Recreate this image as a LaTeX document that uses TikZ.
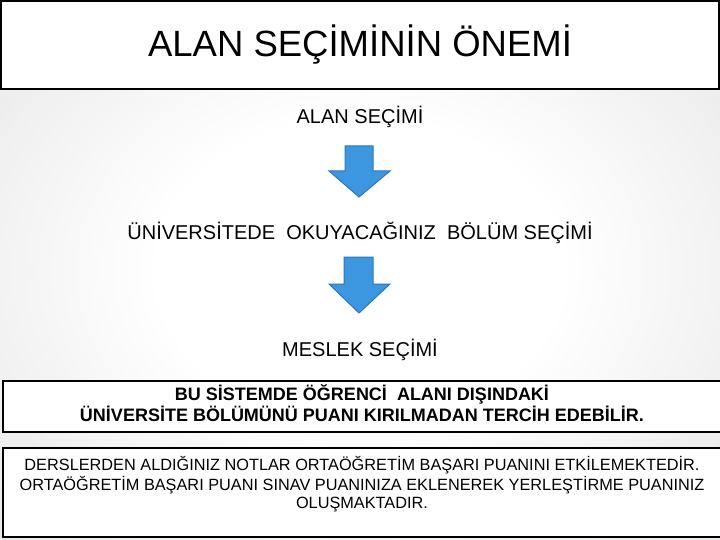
\documentclass[tikz,border=0pt]{standalone}
\usepackage{fontspec}
\setmainfont{Liberation Sans}
\pgfdeclareradialshading{bgshade}{\pgfpoint{0bp}{0bp}}{color(0bp)=(white); color(14bp)=(white); color(50bp)=(black!16); color(71bp)=(black!30)}
\begin{document}
\begin{tikzpicture}[x=1pt,y=-1pt,
  box/.style={draw=black,line width=1.5pt,fill=white},
  darrow/.style={fill=arrowblue,draw=arrowedge,line width=1pt,line join=miter},
  lbl/.style={font=\fontsize{20}{24}\selectfont,anchor=center}]
\definecolor{arrowblue}{HTML}{3D96E0}
\definecolor{arrowedge}{HTML}{2A78B8}
\useasboundingbox (0,0) rectangle (720,540);
\shade[shading=bgshade] (0,0) rectangle (720,540);
% title
\draw[box] (1,1) rectangle (719,89);
\node (title) at (360,45) {\fontsize{36.5}{42}\selectfont ALAN SEÇİMİNİN ÖNEMİ};
% labels
\node[lbl] (a) at (360,117) {ALAN SEÇİMİ};
\node[lbl] (b) at (360,233) {ÜNİVERSİTEDE\ \ OKUYACAĞINIZ\ \ BÖLÜM SEÇİMİ};
\node[lbl] (c) at (360,350) {MESLEK SEÇİMİ};
% arrows
\draw[darrow] (345,146) -- (373,146) -- (373,171) -- (390,171) -- (359,197) -- (329,171) -- (345,171) -- cycle;
\draw[darrow] (344,257) -- (373,257) -- (373,284) -- (390,284) -- (359,313) -- (329,284) -- (344,284) -- cycle;
% box 1
\draw[box] (3,381) rectangle (721,432);
\node (p) at (362,406) {\fontsize{18}{18}\selectfont\bfseries
  \begin{tabular}{@{}c@{}}BU SİSTEMDE ÖĞRENCİ\ \ ALANI DIŞINDAKİ\\ ÜNİVERSİTE BÖLÜMÜNÜ PUANI KIRILMADAN TERCİH EDEBİLİR.\end{tabular}};
% box 2
\draw[box] (3,448) rectangle (721,537);
\node (q) at (362,485) {\fontsize{16.3}{18}\selectfont
  \begin{tabular}{@{}c@{}}DERSLERDEN ALDIĞINIZ NOTLAR ORTAÖĞRETİM BAŞARI PUANINI ETKİLEMEKTEDİR.\\ ORTAÖĞRETİM BAŞARI PUANI SINAV PUANINIZA EKLENEREK YERLEŞTİRME PUANINIZ\\ OLUŞMAKTADIR.\end{tabular}};
\end{tikzpicture}
\end{document}
